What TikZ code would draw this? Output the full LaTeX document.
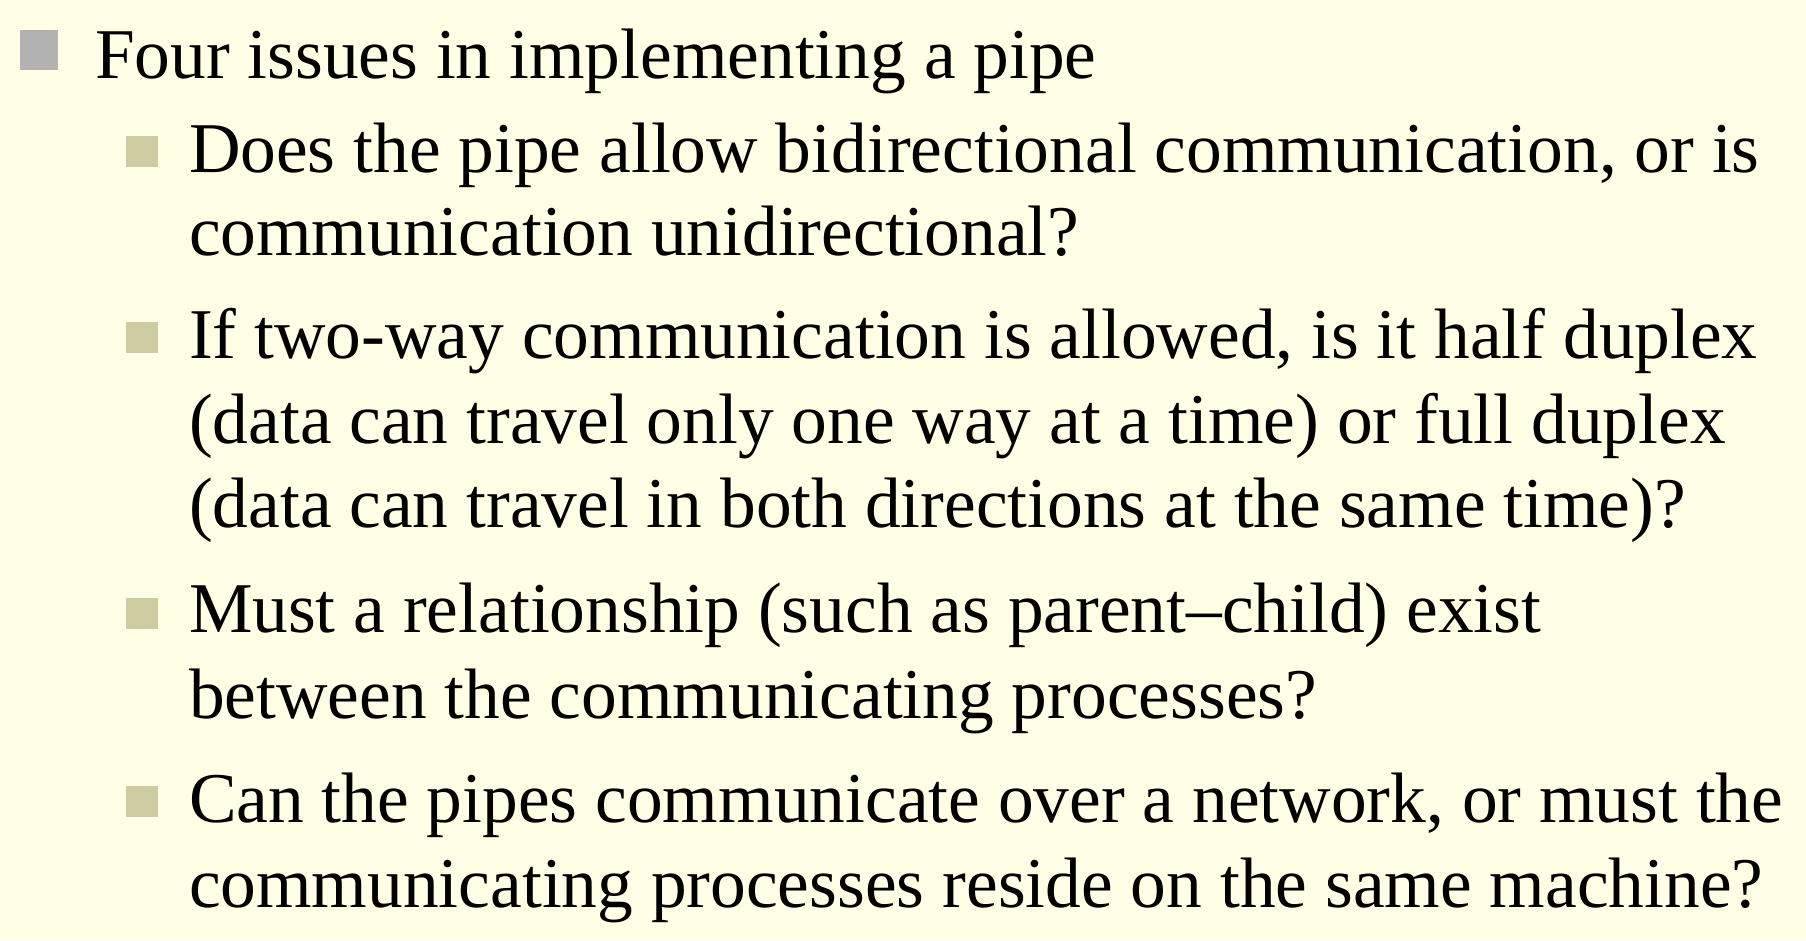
\documentclass[tikz,border=0pt]{standalone}
\usepackage{fontspec}
\setmainfont{Liberation Serif}
\definecolor{bgc}{RGB}{255,255,229}
\definecolor{bulA}{RGB}{178,178,178}
\definecolor{bulB}{RGB}{204,204,160}
\begin{document}
\begin{tikzpicture}[x=1pt,y=-1pt,
  txt/.style={anchor=base west,inner sep=0pt,outer sep=0pt,font=\fontsize{71.4}{85}\selectfont,text=black},
  bulone/.style={fill=bulA,draw=none},
  bultwo/.style={fill=bulB,draw=none}]
\fill[bgc] (0,0) rectangle (1806,940);
\useasboundingbox (0,0) rectangle (1806,940);
% bullets
\fill[bulone] (20,30) rectangle (58,70);
\fill[bultwo] (126,136) rectangle (158,167);
\fill[bultwo] (126,322) rectangle (158,353);
\fill[bultwo] (126,598) rectangle (158,629);
\fill[bultwo] (126,786) rectangle (158,817);
% text
\node[txt] (l1) at (95,78.5) {Four issues in implementing a pipe};
\node[txt] (l2) at (189,172) {Does the pipe allow bidirectional communication, or is};
\node[txt] (l3) at (189,255) {communication unidirectional?};
\node[txt] (l4) at (189,358) {If two-way communication is allowed, is it half duplex};
\node[txt] (l5) at (189,443) {(data can travel only one way at a time) or full duplex};
\node[txt] (l6) at (189,527) {(data can travel in both directions at the same time)?};
\node[txt] (l7) at (189,632) {Must a relationship (such as parent–child) exist};
\node[txt] (l8) at (189,718) {between the communicating processes?};
\node[txt] (l9) at (189,822) {Can the pipes communicate over a network, or must the};
\node[txt] (l10) at (189,907) {communicating processes reside on the same machine?};
\end{tikzpicture}
\end{document}
